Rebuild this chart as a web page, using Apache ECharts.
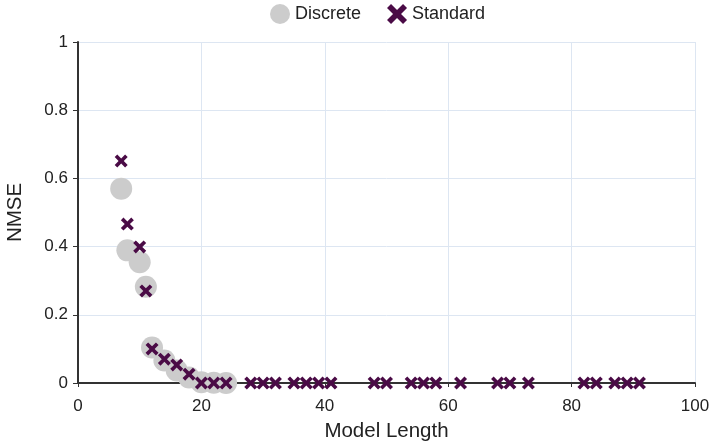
<!DOCTYPE html>
<html>
<head>
<meta charset="utf-8">
<script src="https://cdn.jsdelivr.net/npm/echarts@6/dist/echarts.min.js"></script>
<style>
  html, body { margin: 0; padding: 0; background: #fff; }
  #chart { width: 713px; height: 447px; }
</style>
</head>
<body>
<div id="chart"></div>
<script>
// model length / NMSE
const discreteX = [7, 8, 10, 11, 12, 14, 16, 18, 20, 22, 24];
const discreteY = [0.57, 0.389, 0.354, 0.282, 0.104, 0.066, 0.037, 0.016, 0.002, 0.001, 0.0];

const standardX = [7, 8, 10, 11, 12, 14, 16, 18, 20, 22, 24, 28, 30, 32, 35, 37, 39, 41,
  48, 50, 54, 56, 58, 62, 68, 70, 73, 82, 84, 87, 89, 91];
const standardY = [0.651, 0.466, 0.399, 0.27, 0.1, 0.07, 0.053, 0.026, 0, 0, 0, 0, 0, 0, 0, 0, 0, 0,
  0, 0, 0, 0, 0, 0, 0, 0, 0, 0, 0, 0, 0, 0];

const crossPath = "path://M2,0 L5,3 L8,0 L10,2 L7,5 L10,8 L8,10 L5,7 L2,10 L0,8 L3,5 L0,2 Z";

const font = "Liberation Sans";

var chart = echarts.init(document.getElementById("chart"));
var option = {
  animation: false,
  textStyle: { fontFamily: font },
  legend: {
    top: -1,
    left: 265,
    itemGap: 26,
    itemWidth: 20,
    itemHeight: 20,
    textStyle: { fontSize: 18, color: "#222", fontFamily: font },
    data: [
      { name: "Discrete", icon: "circle" },
      { name: "Standard", icon: crossPath },
    ],
  },
  grid: { left: 78, right: 18, top: 42, bottom: 64, outerBoundsMode: "none", containLabel: false },
  xAxis: {
    type: "value",
    min: 0,
    max: 100,
    interval: 20,
    name: "Model Length",
    nameLocation: "middle",
    nameGap: 38,
    nameTextStyle: { fontSize: 20.5, color: "#222" },
    axisLine: { lineStyle: { color: "#333", width: 2 } },
    axisTick: { show: true, inside: false, length: 4, lineStyle: { color: "#333" } },
    axisLabel: { fontSize: 17, color: "#222", margin: 15 },
    splitLine: { show: true, lineStyle: { color: "#dde6f2", width: 1 } },
  },
  yAxis: {
    type: "value",
    min: 0,
    max: 1,
    interval: 0.2,
    name: "NMSE",
    nameLocation: "middle",
    nameGap: 52,
    nameTextStyle: { fontSize: 20.5, color: "#222" },
    axisLine: { show: true, lineStyle: { color: "#333", width: 2 } },
    axisTick: { show: true, length: 5, lineStyle: { color: "#333" } },
    axisLabel: { fontSize: 17, color: "#222", margin: 10 },
    splitLine: { show: true, lineStyle: { color: "#dde6f2", width: 1 } },
  },
  series: [
    {
      name: "Discrete",
      type: "scatter",
      symbol: "circle",
      symbolSize: 22,
      itemStyle: { color: "#cccccc", opacity: 1 },
      data: discreteX.map((x, i) => [x, discreteY[i]]),
      z: 2,
    },
    {
      name: "Standard",
      type: "scatter",
      symbol: crossPath,
      symbolSize: 13,
      itemStyle: { color: "#4a0b46", opacity: 1 },
      data: standardX.map((x, i) => [x, standardY[i]]),
      z: 3,
    },
  ],
};
chart.setOption(option);
</script>
</body>
</html>
